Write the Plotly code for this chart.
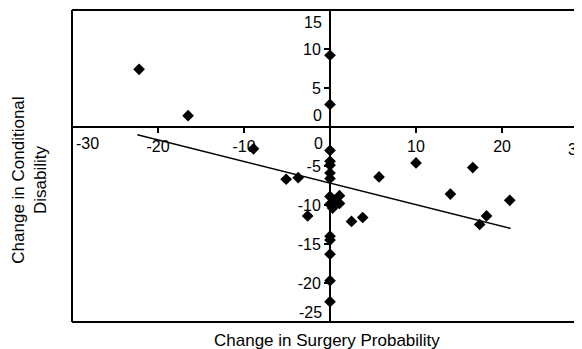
import plotly.graph_objects as go

# Data (Change in Surgery Probability vs Change in Conditional Disability)
surgery_change = [-22.2, -16.5, -8.9, 0.0, 0.0, 0.0, 0.0, 0.0, 0.0, 0.0,
                  -5.1, -3.7, -2.6, 0.0, 1.1, 0.5, 0.0, 1.1, 0.3,
                  2.5, 3.8, 5.7, 10.0, 14.0, 16.6, 17.4, 18.2, 20.9,
                  0.0, 0.0, 0.0, 0.0, 0.0]
disability_change = [7.4, 1.45, -2.8, 9.2, 2.9, -3.0, -4.4, -4.9, -5.9, -6.6,
                     -6.7, -6.5, -11.4, -8.9, -8.8, -9.4, -9.9, -9.8, -10.4,
                     -12.1, -11.6, -6.4, -4.6, -8.6, -5.2, -12.5, -11.4, -9.4,
                     -14.0, -14.5, -16.3, -19.7, -22.4]

trend_x = [-22.4, 21.0]
trend_y = [-1.0, -13.0]

x_ticks = [-30, -20, -10, 0, 10, 20, 30]
y_ticks = [15, 10, 5, 0, -5, -10, -15, -20, -25]

x_range = [-30, 29.3]
y_range = [-25, 15]

FONT = "Liberation Sans, Arial, sans-serif"
TICKFONT = dict(family=FONT, size=16, color="black")

fig = go.Figure()
fig.add_trace(go.Scatter(x=trend_x, y=trend_y, mode="lines",
                         line=dict(color="black", width=1.5), hoverinfo="skip"))
fig.add_trace(go.Scatter(x=surgery_change, y=disability_change, mode="markers",
                         marker=dict(symbol="diamond", size=9, color="black")))

xpos = (0 - y_range[0]) / (y_range[1] - y_range[0])
ypos = (0 - x_range[0]) / (x_range[1] - x_range[0])

x_vis = [t for t in x_ticks if x_range[0] <= t <= x_range[1]]
y_special = (0, y_ticks[0], y_ticks[-1])
fig.update_xaxes(range=x_range, anchor="free", position=xpos, automargin=False,
                 showline=True, linecolor="black", linewidth=2,
                 ticks="outside", ticklen=5, tickwidth=1.5, tickcolor="black",
                 tickvals=x_vis,
                 ticktext=["" if t in (0, x_range[0]) else str(t) for t in x_vis],
                 tickfont=TICKFONT, showgrid=False, zeroline=False)
fig.update_yaxes(range=y_range, anchor="free", position=ypos, automargin=False,
                 showline=True, linecolor="black", linewidth=2,
                 ticks="outside", ticklen=5, tickwidth=1.5, tickcolor="black",
                 tickvals=y_ticks,
                 ticktext=["" if t in y_special else str(t) for t in y_ticks],
                 tickfont=TICKFONT, showgrid=False, zeroline=False)

annotations = [
    # zero labels placed beside the crossing point
    dict(x=0, y=0, xref="x", yref="y", text="0", showarrow=False,
         xanchor="right", yanchor="bottom", xshift=-6, yshift=1, font=TICKFONT),
    dict(x=0, y=0, xref="x", yref="y", text="0", showarrow=False,
         xanchor="right", yanchor="top", xshift=-5, yshift=-6, font=TICKFONT),
    # end labels of the y axis kept inside the frame
    dict(x=0, y=y_ticks[0], xref="x", yref="y", text=str(y_ticks[0]), showarrow=False,
         xanchor="right", yanchor="top", xshift=-6, yshift=-2, font=TICKFONT),
    dict(x=0, y=y_ticks[-1], xref="x", yref="y", text=str(y_ticks[-1]), showarrow=False,
         xanchor="right", yanchor="bottom", xshift=-6, yshift=-1, font=TICKFONT),
    # end labels of the x axis
    dict(x=0, y=0, xref="paper", yref="y", text=str(x_ticks[0]), showarrow=False,
         xanchor="left", yanchor="top", xshift=2, yshift=-6, font=TICKFONT),
    dict(x=(x_ticks[-1] - x_range[0]) / (x_range[1] - x_range[0]), y=0,
         xref="paper", yref="y", text=str(x_ticks[-1]), showarrow=False,
         xanchor="center", yanchor="top", xshift=-11, yshift=-12, font=TICKFONT),
    dict(x=0.5, y=-0.058, xref="paper", yref="paper", text="Change in Surgery Probability",
         showarrow=False, xanchor="center", yanchor="middle",
         font=dict(family=FONT, size=17, color="black")),
    dict(x=-0.085, y=0.455, xref="paper", yref="paper",
         text="Change in Conditional<br>Disability", textangle=-90,
         showarrow=False, xanchor="center", yanchor="middle",
         font=dict(family=FONT, size=17, color="black")),
]

shapes = [
    dict(type="line", xref="paper", yref="paper", x0=0, x1=0, y0=0, y1=1,
         line=dict(color="black", width=2)),
    dict(type="line", xref="paper", yref="paper", x0=0, x1=1, y0=1, y1=1,
         line=dict(color="black", width=2)),
    dict(type="line", xref="paper", yref="paper", x0=0, x1=1, y0=0, y1=0,
         line=dict(color="black", width=2)),
]

# the page body adds an 8px offset, so the figure is 8px smaller on each axis
fig.update_layout(width=574, height=341,
                  margin=dict(l=64, r=0, t=2, b=27),
                  plot_bgcolor="white", paper_bgcolor="white",
                  showlegend=False, annotations=annotations, shapes=shapes)

fig.write_html("out.html")
